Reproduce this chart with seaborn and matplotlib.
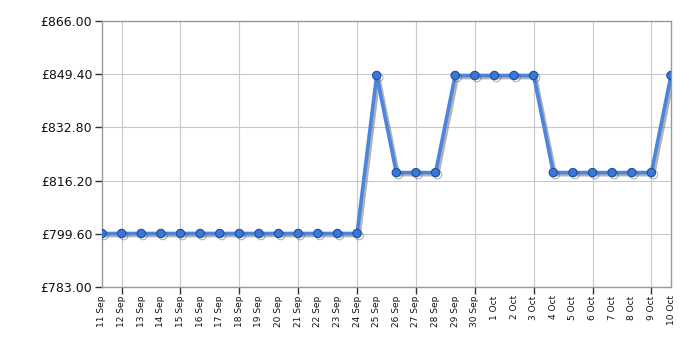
import matplotlib
matplotlib.use("Agg")
import matplotlib.pyplot as plt
import matplotlib.patheffects as pe
import seaborn as sns
import pandas as pd
import numpy as np

dates = ["11 Sep", "12 Sep", "13 Sep", "14 Sep", "15 Sep", "16 Sep", "17 Sep", "18 Sep",
         "19 Sep", "20 Sep", "21 Sep", "22 Sep", "23 Sep", "24 Sep", "25 Sep", "26 Sep",
         "27 Sep", "28 Sep", "29 Sep", "30 Sep", "1 Oct", "2 Oct", "3 Oct", "4 Oct",
         "5 Oct", "6 Oct", "7 Oct", "8 Oct", "9 Oct", "10 Oct"]
prices = [799.7] * 14 + [849.0, 818.7, 818.7, 818.7, 849.0, 849.0, 849.0, 849.0, 849.0,
                         818.7, 818.7, 818.7, 818.7, 818.7, 818.7, 849.0]
y_ticks = [783.00, 799.60, 816.20, 832.80, 849.40, 866.00]

df = pd.DataFrame({"idx": np.arange(len(dates)), "price": prices})

sns.set_style("white")
plt.rcParams['font.family'] = ['DejaVu Sans']

fig = plt.figure(figsize=(7, 3.5), dpi=100)
ax = fig.add_axes([102/700, 1 - 287/350, (671 - 102)/700, (287 - 21)/350])

sns.lineplot(data=df, x="idx", y="price", ax=ax, color="#4a86e0", linewidth=2.6,
             marker="o", markersize=6, markerfacecolor="#3a78d8",
             markeredgecolor="#1f4f9a", markeredgewidth=0.8, zorder=3,
             path_effects=[pe.SimpleLineShadow(offset=(1.5, -1.5), shadow_color="#555555", alpha=0.45),
                           pe.Normal()])

ax.set_xlim(0, len(dates) - 1)
ax.set_ylim(y_ticks[0], y_ticks[-1])
ax.set_yticks(y_ticks)
ax.set_yticklabels([f"£{v:.2f}" for v in y_ticks], fontsize=9, color="#111111")
ax.xaxis.remove_overlapping_locs = False
ax.set_xticks(np.arange(len(dates)))
ax.set_xticklabels(dates, rotation=90, fontsize=6.5, color="#111111")
ax.set_xticks(np.arange(1, len(dates), 3), minor=True)
ax.tick_params(axis="x", which="major", bottom=True, length=0, pad=6)
ax.tick_params(axis="x", which="minor", bottom=True, length=5, color="#333333", width=1)
ax.tick_params(axis="y", which="major", left=True, length=5, color="#333333", width=1, pad=2)

ax.grid(False)
ax.xaxis.grid(True, which="minor", color="#c8c8c8", linewidth=0.8)
ax.yaxis.grid(True, which="major", color="#c8c8c8", linewidth=0.8)
ax.set_axisbelow(True)
for s in ax.spines.values():
    s.set_color("#999999")
    s.set_linewidth(1)
ax.set_xlabel("")
ax.set_ylabel("")

fig.savefig("out.png", dpi=100)
